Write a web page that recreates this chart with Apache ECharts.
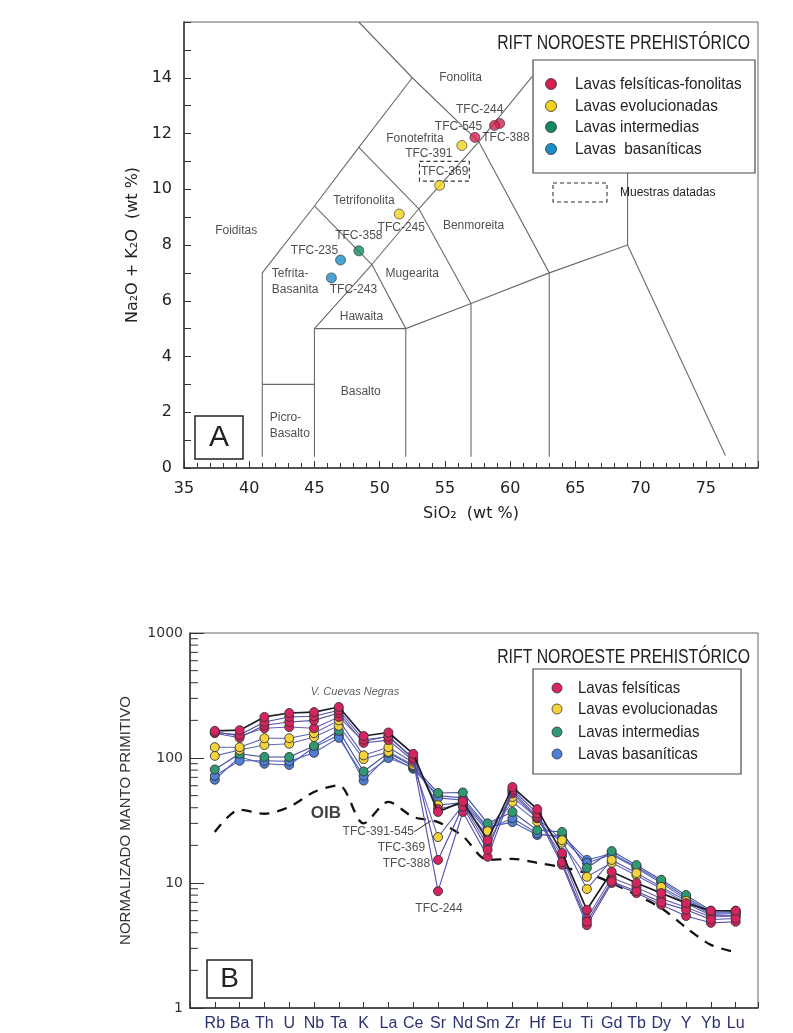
<!DOCTYPE html>
<html><head><meta charset="utf-8">
<script src="https://cdn.jsdelivr.net/npm/echarts/dist/echarts.min.js"></script>
<style>html,body{margin:0;padding:0;background:#fff}#c{width:793px;height:1033px}</style>
</head><body><div id="c"></div>
<script>
// ---------- Chart A (TAS) data ----------
const tasSamples = ['TFC-244','TFC-545','TFC-388','TFC-391','TFC-369','TFC-245','TFC-358','TFC-235','TFC-243'];
const tasSiO2    = [59.2, 58.8, 57.3, 56.3, 54.6, 51.5, 48.4, 47.0, 46.3];
const tasAlk     = [12.36, 12.29, 11.86, 11.57, 10.14, 9.11, 7.79, 7.46, 6.82];
const tasGroup   = [0, 0, 0, 1, 1, 1, 2, 3, 3];
const groupsA    = ['Lavas felsíticas-fonolitas','Lavas evolucionadas','Lavas intermedias','Lavas  basaníticas'];
const tasBoundaries = [
  [[41,0.4],[41,7],[45,9.4],[48.4,11.5],[52.5,14],[48.4,16]],
  [[41,3],[45,3]],
  [[45,0.4],[45,5],[49.4,7.3],[53,9.3],[57.6,11.7],[61.7,14.05]],
  [[45,5],[52,5],[57,5.9],[63,7],[69,8],[69,13]],
  [[45,9.4],[49.4,7.3],[52,5],[52,0.4]],
  [[48.4,11.5],[53,9.3],[57,5.9],[57,0.4]],
  [[52.5,14],[57.6,11.7],[63,7],[63,0.4]],
  [[69,8],[76.5,0.45]]
];
const fieldNames = ['Fonolita','Fonotefrita','Tetrifonolita','Foiditas','Tefrita-\nBasanita','Mugearita','Hawaita','Basalto','Picro-\nBasalto','Benmoreita'];
const fieldX = [56.2, 52.7, 48.8, 39.0, 41.73, 52.5, 48.6, 48.55, 41.58, 57.2];
const fieldY = [14.0, 11.8, 9.6, 8.5, 6.68, 6.96, 5.43, 2.75, 1.52, 8.68];

// ---------- Chart B (spider) data ----------
const elements = ['Rb','Ba','Th','U','Nb','Ta','K','La','Ce','Sr','Nd','Sm','Zr','Hf','Eu','Ti','Gd','Tb','Dy','Y','Yb','Lu'];
const oib   = [25.6,38.5,35.8,40.6,53.5,60.5,30,44.5,33.8,30.7,23.7,15.3,15.6,14.5,13.4,12,10,8,6.3,4.4,3.2,2.8];
const tfc545 = [165,167,213,229,233,256,150,160,108,37,45,22,58.6,39,17.4,6.1,12.3,10,8.3,6.9,6.0,6.0];
const tfc388 = [160,153,194,213,216,241,140,148,100,15.3,41,18.4,56,36,14.7,4.9,10.3,8.6,7.0,6.1,5.1,5.2];
const tfc244 = [158,145,183,194,200,229,132,139,95,8.6,37,16.2,54,34,14,4.6,10,8.3,6.7,5.45,4.8,4.9];
const felsic4 = [162,150,173,177,173,213,135,150,98,39,43,20,52,33,16.5,5.2,11,9.2,7.5,6.4,5.35,5.45];
const tfc391 = [122,122,144,144,158,200,105,122,92,42,44,26,48.8,33,22,8.95,15.3,12,9.3,7.2,5.6,5.7];
const tfc369 = [104,116,127,130,147,181,98,112,88,23.3,42,24,44.5,31,21,11.2,14.5,11.5,9.0,6.9,5.5,5.5];
const tfc358 = [81,108,102,102,125,165,78,110,86,52.5,53,30,37,26.5,25.6,13.2,18,13.9,10.6,8.0,6.0,6.0];
const tfc235 = [67,102,90,88,122,153,66,105,82,50,48,28,30.7,24.2,24,15.3,17.2,13.5,10.3,7.7,5.8,5.9];
const tfc243 = [72,95,95,94,110,145,72,100,84,48,46,27,33,25,23,14.5,16.8,13.2,10,7.4,5.7,5.8];
const groupsB = ['Lavas felsíticas','Lavas evolucionadas','Lavas intermedias','Lavas basaníticas'];
const logMinor = [2,3,4,5,6,7,8,9,20,30,40,50,60,70,80,90,200,300,400,500,600,700,800,900];

// ---------- styles ----------
const colA = ['#d2214f','#f2d31b','#138a5e','#1b8dc8'];
const colB = ['#d6245e','#f4d43a','#2f9a72','#4f7fd6'];
const ink = '#222';
const FF = '"DejaVu Sans", sans-serif';
const AR = '"Liberation Sans", Arial, sans-serif';

const labelOffA = {
  'TFC-244':[-20,-14],'TFC-545':[-36,1],'TFC-388':[31,0],'TFC-391':[-33,8],'TFC-369':[5,-14],
  'TFC-245':[2,14],'TFC-358':[0,-15],'TFC-235':[-26,-9],'TFC-243':[22,12]
};

const series = [];
// TAS boundaries
tasBoundaries.forEach(pl => series.push({
  type:'line', xAxisIndex:0, yAxisIndex:0, data:pl, showSymbol:false, symbol:'none', silent:true,
  lineStyle:{color:'#6a6a6a', width:1.1}, z:1
}));
// field labels + dated-sample box
series.push({
  type:'scatter', xAxisIndex:0, yAxisIndex:0, symbolSize:0.1, silent:true,
  itemStyle:{color:'rgba(0,0,0,0)'},
  data: fieldNames.map((n,i)=>({name:n, value:[fieldX[i], fieldY[i]],
    label:{align: n.indexOf('\n')>=0 ? 'left':'center'}})),
  label:{show:true, position:'inside', formatter:p=>p.name, color:ink, fontSize:12, fontFamily:AR, lineHeight:16},
  markArea:{silent:true, itemStyle:{color:'rgba(0,0,0,0)', borderColor:'#333', borderWidth:1.1, borderType:[4,3]},
    data:[[{coord:[53.05,11.0]},{coord:[56.87,10.29]}]]}
});
// TAS points
groupsA.forEach((g,gi) => series.push({
  type:'scatter', name:g, xAxisIndex:0, yAxisIndex:0, symbolSize:10, z:5,
  itemStyle:{color:colA[gi], borderColor:'#333', borderWidth:0.8},
  label:{show:true, position:'inside', formatter:p=>p.name, color:ink, fontSize:12, fontFamily:AR, textBorderWidth:0},
  data: tasSamples.map((s,i)=>({s,i})).filter(o=>tasGroup[o.i]===gi).map(o=>({
    name:o.s, value:[tasSiO2[o.i], tasAlk[o.i]], label:{offset:labelOffA[o.s]}
  }))
}));

// Chart B: minor ticks on log axis
series.push({
  type:'custom', xAxisIndex:1, yAxisIndex:1, silent:true, z:3,
  data: logMinor.map(v=>[-1, v]),
  renderItem:(params, api) => {
    const p = api.coord([api.value(0), api.value(1)]);
    return {type:'line', shape:{x1:p[0], y1:p[1], x2:p[0]+8, y2:p[1]}, style:{stroke:'#333', lineWidth:1}};
  }
});
// OIB
series.push({
  type:'line', xAxisIndex:1, yAxisIndex:1, data: oib.map((v,i)=>[i,v]), symbol:'none', smooth:0.3, silent:true,
  lineStyle:{color:'#111', width:2.3, type:[10,8]}, z:2
});
const spider = [
  {d:tfc235, g:3, line:'#4a5ec0'},
  {d:tfc243, g:3, line:'#5a63b8'},
  {d:tfc358, g:2, line:'#3a4a9a'},
  {d:tfc369, g:1, line:'#6466c0'},
  {d:tfc391, g:1, line:'#5b5eb5'},
  {d:felsic4, g:0, line:'#6b5fb0'},
  {d:tfc244, g:0, line:'#5450a8'},
  {d:tfc388, g:0, line:'#4d4aa0'},
  {d:tfc545, g:0, line:'#1c1c28'}
];
spider.forEach((s,k) => series.push({
  type:'line', xAxisIndex:1, yAxisIndex:1, data: s.d.map((v,i)=>[i,v]), symbol:'circle', symbolSize:9,
  itemStyle:{color:colB[s.g], borderColor:'#333', borderWidth:0.9},
  lineStyle:{color:s.line, width: s.line==='#1c1c28' ? 1.7 : 1.1}, z:4+k*0.01
}));
// leader line
series.push({
  type:'line', xAxisIndex:1, yAxisIndex:1, data:[[8.05,25.8],[8.72,31.5]], symbol:'none', silent:true,
  lineStyle:{color:'#222', width:1}, z:6
});
// B annotations
const annB = [
  {t:'TFC-391-545', v:[8.03,25.6], align:'right'},
  {t:'TFC-369', v:[8.48,19.05], align:'right'},
  {t:'TFC-388', v:[8.68,14.2], align:'right'},
  {t:'TFC-244', v:[9.04,6.2], align:'center'},
  {t:'V. Cuevas Negras', v:[5.65,337], align:'center', fontStyle:'italic', fontSize:11, color:'#333'},
  {t:'OIB', v:[4.48,36.3], align:'center', fontWeight:'bold', fontSize:17, color:'#111'}
];
series.push({
  type:'scatter', xAxisIndex:1, yAxisIndex:1, symbolSize:0.1, silent:true, z:7,
  itemStyle:{color:'rgba(0,0,0,0)'},
  label:{show:true, position:'inside', formatter:p=>p.name, color:ink, fontSize:12, fontFamily:AR},
  data: annB.map(a=>({name:a.t, value:a.v, label:{align:a.align, fontStyle:a.fontStyle||'normal',
    fontWeight:a.fontWeight||'normal', fontSize:a.fontSize||12, color:a.color||ink}}))
});

// ---------- graphic (titles, legends, panel letters) ----------
function legendBlock(x, y, w, h, names, cols, rowY, cx, tx, r, fs, sx) {
  const els = [{type:'rect', z:10, shape:{x, y, width:w, height:h}, style:{fill:'#fff', stroke:'#4a4a4a', lineWidth:1.2}}];
  names.forEach((n,i)=>{
    els.push({type:'circle', z:11, shape:{cx, cy:rowY[i], r}, style:{fill:cols[i], stroke:'#333', lineWidth:0.8}});
    els.push({type:'text', z:11, x:tx, y:rowY[i], scaleX:sx,
      style:{text:n, font:fs+'px '+AR, fill:ink, verticalAlign:'middle', textVerticalAlign:'middle', align:'left', textAlign:'left'}});
  });
  return els;
}
function txt(x, y, t, font, align, sx) {
  return {type:'text', z:11, x, y, scaleX:sx||1,
    style:{text:t, font, fill:ink, align, textAlign:align, verticalAlign:'middle', textVerticalAlign:'middle'}};
}
const graphic = [].concat(
  [txt(750, 43, 'RIFT NOROESTE PREHISTÓRICO', '20px '+AR, 'right', 0.79)],
  legendBlock(533, 60, 222, 113, groupsA, colA, [84,106,127,149], 551, 575, 5.5, 17, 0.9),
  [{type:'rect', z:10, shape:{x:553, y:183, width:54, height:19}, style:{fill:'#fff', stroke:'#333', lineWidth:1.1, lineDash:[4,3]}},
   txt(620, 193, 'Muestras datadas', '12px '+AR, 'left'),
   {type:'rect', z:10, shape:{x:195, y:416, width:48, height:43}, style:{fill:'#fff', stroke:'#222', lineWidth:1.5}},
   txt(219, 438, 'A', '30px '+AR, 'center'),
   txt(750, 657, 'RIFT NOROESTE PREHISTÓRICO', '20px '+AR, 'right', 0.79)],
  legendBlock(533, 669, 208, 105, groupsB, colB, [688,709,732,754], 557, 578, 5, 17, 0.88),
  [{type:'rect', z:10, shape:{x:207, y:960, width:45, height:38}, style:{fill:'#fff', stroke:'#222', lineWidth:1.5}},
   txt(229.5, 979, 'B', '28px '+AR, 'center')]
);

const axisLine = {onZero:false, lineStyle:{color:'#333', width:1.5}};
const option = {
  animation:false,
  backgroundColor:'#fff',
  grid:[
    {left:184, top:22, width:574, height:446, show:true, borderColor:'#666', borderWidth:1},
    {left:190, top:633, width:568, height:375, show:true, borderColor:'#666', borderWidth:1}
  ],
  xAxis:[
    {gridIndex:0, type:'value', min:35, max:79, interval:5, axisLine,
     axisTick:{inside:true, length:7, lineStyle:{color:'#333'}},
     minorTick:{show:true, splitNumber:5, length:5, lineStyle:{color:'#333'}},
     splitLine:{show:false},
     axisLabel:{formatter:v=>(v%5===0 && v<=75)? String(v):'', fontSize:16, fontFamily:FF, color:ink, margin:13},
     name:'SiO₂  (wt %)', nameLocation:'middle', nameGap:38,
     nameTextStyle:{fontSize:16, fontFamily:FF, color:ink}},
    {gridIndex:1, type:'value', min:-1, max:21.9, interval:1, axisLine,
     axisTick:{inside:true, length:6, lineStyle:{color:'#333'}},
     splitLine:{show:false},
     axisLabel:{formatter:v=>(Number.isInteger(v) && v>=0 && v<elements.length)? elements[v]:'', fontSize:16, fontFamily:AR, color:'#2b3270', margin:8}}
  ],
  yAxis:[
    {gridIndex:0, type:'value', min:0, max:16, interval:2, axisLine,
     axisTick:{inside:true, length:7, lineStyle:{color:'#333'}},
     minorTick:{show:true, splitNumber:2, length:7, lineStyle:{color:'#333'}},
     splitLine:{show:false},
     axisLabel:{formatter:v=>v<16? String(v):'', fontSize:16, fontFamily:FF, color:ink, margin:12},
     name:'Na₂O + K₂O  (wt %)', nameLocation:'middle', nameGap:38, nameRotate:90,
     nameTextStyle:{fontSize:16, fontFamily:FF, color:ink}},
    {gridIndex:1, type:'log', logBase:10, min:1, max:1000, axisLine,
     axisTick:{inside:true, length:14, lineStyle:{color:'#333'}},
     splitLine:{show:false},
     axisLabel:{formatter:v=>String(Math.round(v)), fontSize:14, fontFamily:FF, color:'#333', margin:7},
     name:'NORMALIZADO MANTO PRIMITIVO', nameLocation:'middle', nameGap:57, nameRotate:90,
     nameTextStyle:{fontSize:15, fontFamily:AR, color:'#333'}}
  ],
  series,
  graphic
};
const chart = echarts.init(document.getElementById('c'), null, {renderer:'canvas'});
chart.setOption(option);
</script></body></html>
